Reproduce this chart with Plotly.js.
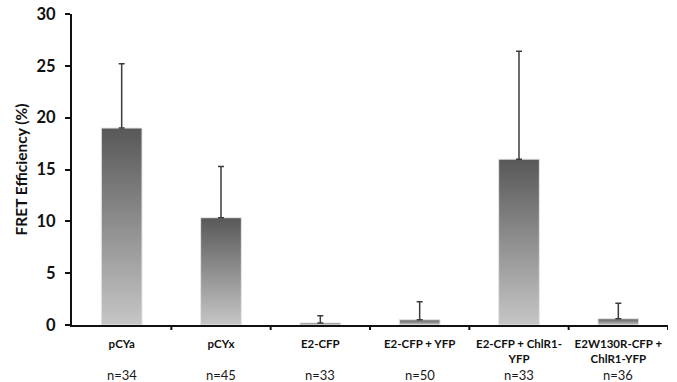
<!DOCTYPE html>
<html>
<head>
<meta charset="utf-8">
<script src="https://cdn.plot.ly/plotly-3.0.1.min.js"></script>
<style>
  html, body { margin: 0; padding: 0; background: #fff; }
  #chart { width: 677px; height: 382px; }
</style>
</head>
<body>
<svg width="0" height="0" style="position:absolute">
  <defs>
    <linearGradient id="barGrad" x1="0" y1="0" x2="0" y2="1">
      <stop offset="0" stop-color="#585858"/>
      <stop offset="1" stop-color="#c6c6c6"/>
    </linearGradient>
  </defs>
</svg>
<div id="chart"></div>
<script>
// Data
const categories = ["pCYa", "pCYx", "E2-CFP", "E2-CFP + YFP", "E2-CFP + ChlR1-<br>YFP", "E2W130R-CFP +<br>ChlR1-YFP"];
const fretEfficiency = [19.0, 10.35, 0.2, 0.5, 16.0, 0.6];
const errorUpper = [6.2, 4.95, 0.7, 1.75, 10.4, 1.5];
const sampleSizes = ["n=34", "n=45", "n=33", "n=50", "n=33", "n=36"];
const yTicks = [0, 5, 10, 15, 20, 25, 30];

const xIdx = categories.map((_, i) => i);
const FONT = "Lato, 'Open Sans', Arial, sans-serif";

const trace = {
  type: "bar",
  x: xIdx,
  y: fretEfficiency,
  marker: { color: "#8a8a8a", line: { color: "#e6e6e6", width: 1 } },
  error_y: {
    type: "data",
    symmetric: false,
    array: errorUpper,
    arrayminus: errorUpper.map(() => 0),
    color: "#3c3c3c",
    thickness: 1.5,
    width: 3
  },
  hoverinfo: "none"
};

const annotations = sampleSizes.map((t, i) => ({
  x: i, xref: "x",
  y: -0.161, yref: "paper",
  text: t, showarrow: false,
  xanchor: "center", yanchor: "middle",
  font: { family: FONT, size: 13, color: "#1a1a1a" }
}));

const layout = {
  width: 677, height: 382,
  margin: { l: 72, r: 9, t: 14, b: 57 },
  paper_bgcolor: "#fff", plot_bgcolor: "#fff",
  showlegend: false,
  bargap: 0.59,
  font: { family: FONT, color: "#111" },
  xaxis: {
    type: "linear",
    range: [-0.5, categories.length - 0.5],
    tickmode: "array",
    tickvals: xIdx,
    ticktext: categories.map(c => "<b>" + c.replace("<br>", "</b><br><b>") + "</b>"),
    showline: true, linecolor: "#111", linewidth: 2,
    showgrid: false, zeroline: false,
    ticks: "",
    tickfont: { family: FONT, size: 11.5, color: "#111" },
    ticklabelstandoff: 7,
    fixedrange: true
  },
  yaxis: {
    range: [0, 30],
    tickmode: "array",
    tickvals: yTicks,
    ticktext: yTicks.map(v => "<b>" + v + "</b>"),
    showline: true, linecolor: "#111", linewidth: 2,
    showgrid: false, zeroline: false,
    ticks: "outside", ticklen: 5, tickwidth: 2, tickcolor: "#111",
    tickfont: { family: FONT, size: 16.5, color: "#111" },
    ticklabelstandoff: 6,
    title: { text: "<b>FRET Efficiency (%)</b>", font: { family: FONT, size: 15.5, color: "#111" }, standoff: 5 },
    fixedrange: true
  },
  shapes: categories.map((_, i) => ({
    type: "line", xref: "x", yref: "paper",
    x0: i + 0.5, x1: i + 0.5, y0: 0, y1: -0.016,
    line: { color: "#111", width: 2 }
  })),
  annotations: annotations
};

Plotly.newPlot("chart", [trace], layout, { staticPlot: true, displayModeBar: false }).then(gd => {
  gd.querySelectorAll(".trace.bars .point path").forEach(p => {
    p.style.fill = "url(#barGrad)";
  });
});
</script>
</body>
</html>
